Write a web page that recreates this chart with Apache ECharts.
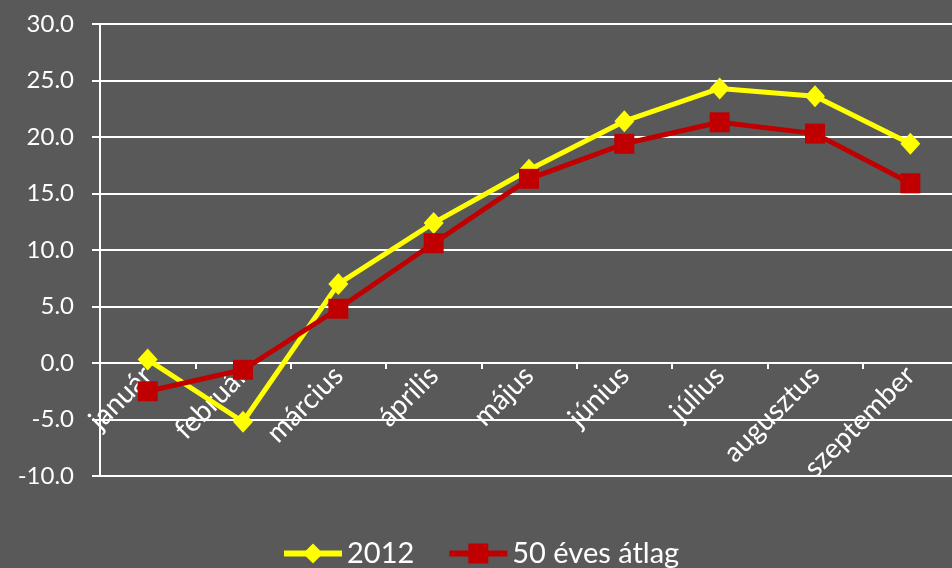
<!DOCTYPE html>
<html>
<head>
<meta charset="utf-8">
<script src="https://cdn.jsdelivr.net/npm/echarts@6/dist/echarts.min.js"></script>
<style>
  html, body { margin: 0; padding: 0; background: #595959; }
  #content { width: 952px; height: 568px; }
</style>
</head>
<body>
<div id="content"></div>
<script>
var months = ['január', 'február', 'március', 'április', 'május', 'június', 'július', 'augusztus', 'szeptember'];
var temp2012 = [0.3, -5.2, 7.0, 12.4, 17.1, 21.4, 24.3, 23.6, 19.4];
var avg50 = [-2.5, -0.6, 4.8, 10.6, 16.3, 19.4, 21.3, 20.3, 15.9];

var myChart = echarts.init(document.getElementById('content'));
var fontName = 'Lato';

var option = {
    backgroundColor: '#595959',
    animation: false,
    grid: {
        left: 100,
        top: 24,
        width: 858,
        height: 452,
        outerBoundsMode: 'none'
    },
    legend: {
        left: 276,
        top: 534,
        itemWidth: 58,
        itemHeight: 25,
        itemGap: 32,
        textStyle: {color: '#ffffff', fontSize: 29, fontFamily: fontName},
        data: [
            {name: '2012', lineStyle: {width: 6}},
            {name: '50 éves átlag', lineStyle: {width: 6}}
        ]
    },
    xAxis: {
        type: 'category',
        data: months,
        offset: -113, // axis crosses at 0
        axisLine: {onZero: false, lineStyle: {color: '#ffffff', width: 2}},
        axisTick: {show: true, length: 6, lineStyle: {color: '#ffffff', width: 2}},
        axisLabel: {
            rotate: 45,
            margin: 8,
            color: '#ffffff',
            fontSize: 28,
            fontFamily: fontName
        }
    },
    yAxis: {
        type: 'value',
        min: -10,
        max: 30,
        interval: 5,
        axisLine: {show: true, lineStyle: {color: '#ffffff', width: 2}},
        axisTick: {show: true, length: 8, lineStyle: {color: '#ffffff', width: 2}},
        splitLine: {lineStyle: {color: '#ffffff', width: 2}},
        axisLabel: {
            margin: 26,
            color: '#ffffff',
            fontSize: 24,
            fontFamily: fontName,
            formatter: function (v) { return v.toFixed(1); }
        }
    },
    series: [
        {
            name: '2012',
            type: 'line',
            data: temp2012,
            symbol: 'diamond',
            symbolSize: [20, 22],
            z: 3,
            lineStyle: {color: '#ffff00', width: 5},
            itemStyle: {color: '#ffff00'}
        },
        {
            name: '50 éves átlag',
            type: 'line',
            data: avg50,
            symbol: 'rect',
            symbolSize: 20,
            z: 4,
            lineStyle: {color: '#c00000', width: 5},
            itemStyle: {color: '#c00000'}
        }
    ]
};
myChart.setOption(option);
</script>
</body>
</html>
